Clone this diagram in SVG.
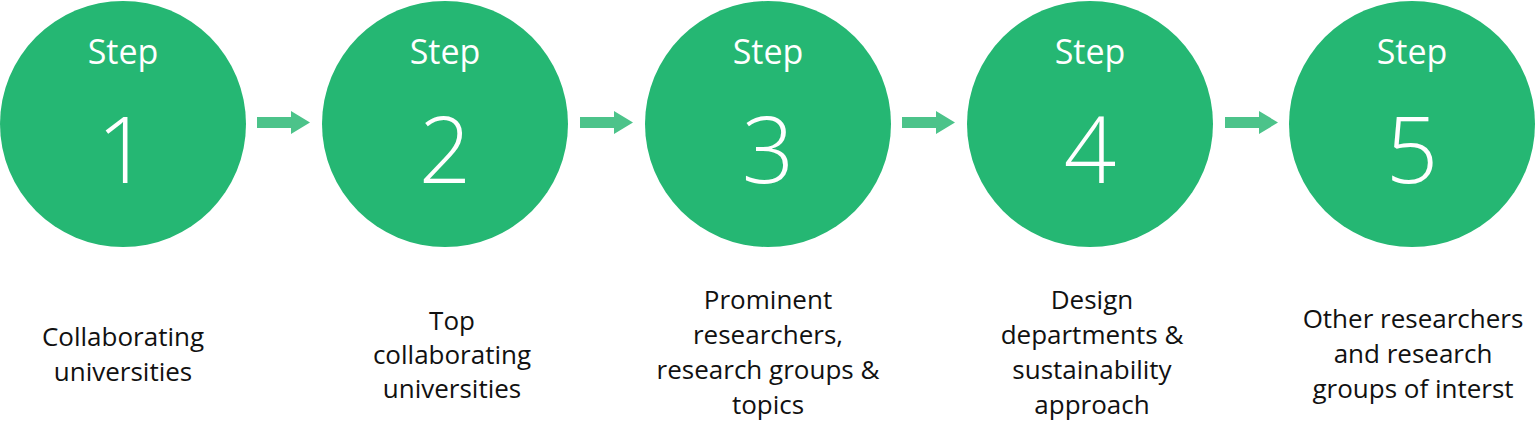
<svg xmlns="http://www.w3.org/2000/svg" width="1536" height="423" viewBox="0 0 1536 423">
<style>
.c{fill:#25b773}
.st{font-family:"Open Sans","Liberation Sans",sans-serif;font-size:34px;fill:#fff;text-anchor:middle}
.n{font-family:"Open Sans","Liberation Sans",sans-serif;font-size:92px;font-weight:300;fill:#fff;text-anchor:middle}
.l{font-family:"Open Sans","Liberation Sans",sans-serif;font-size:26px;fill:#111;text-anchor:middle}
.a{fill:#4cc38a}
</style>
<defs>
<path id="arr" d="M0,-5.5 h34 v-6 l19,11.5 l-19,11.5 v-6 h-34 z"/>
</defs>
<g id="step1">
<circle class="c" cx="123" cy="124" r="123"/>
<text class="st" x="123" y="64">Step</text>
<text class="n" x="123" y="183">1</text>
<text class="l" x="123"><tspan x="123" y="346">Collaborating</tspan><tspan x="123" y="381">universities</tspan></text>
</g>
<g id="step2">
<circle class="c" cx="445" cy="124" r="123"/>
<text class="st" x="445" y="64">Step</text>
<text class="n" x="445" y="183">2</text>
<text class="l"><tspan x="452" y="330">Top</tspan><tspan x="452" y="364">collaborating</tspan><tspan x="452" y="398">universities</tspan></text>
</g>
<g id="step3">
<circle class="c" cx="768" cy="124" r="123"/>
<text class="st" x="768" y="64">Step</text>
<text class="n" x="768" y="183">3</text>
<text class="l"><tspan x="768" y="309">Prominent</tspan><tspan x="768" y="344">researchers,</tspan><tspan x="768" y="379">research groups &amp;</tspan><tspan x="768" y="414">topics</tspan></text>
</g>
<g id="step4">
<circle class="c" cx="1090" cy="124" r="123"/>
<text class="st" x="1090" y="64">Step</text>
<text class="n" x="1090" y="183">4</text>
<text class="l"><tspan x="1092" y="309">Design</tspan><tspan x="1092" y="344">departments &amp;</tspan><tspan x="1092" y="379">sustainability</tspan><tspan x="1092" y="414">approach</tspan></text>
</g>
<g id="step5">
<circle class="c" cx="1412" cy="124" r="123"/>
<text class="st" x="1412" y="64">Step</text>
<text class="n" x="1412" y="183">5</text>
<text class="l"><tspan x="1413" y="328">Other researchers</tspan><tspan x="1413" y="363">and research</tspan><tspan x="1413" y="398">groups of interst</tspan></text>
</g>
<g id="connectors">
<use href="#arr" class="a" x="257" y="122.5"/>
<use href="#arr" class="a" x="580" y="122.5"/>
<use href="#arr" class="a" x="902" y="122.5"/>
<use href="#arr" class="a" x="1225" y="122.5"/>
</g>
</svg>
